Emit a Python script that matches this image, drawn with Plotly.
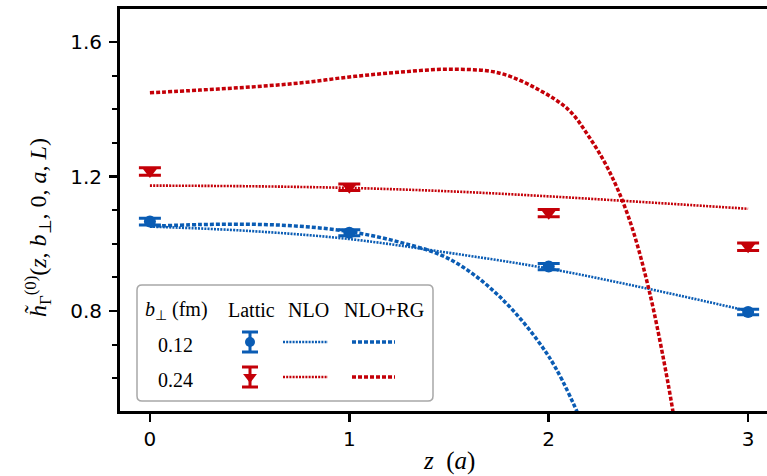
import plotly.graph_objects as go

# ---------------- data ----------------
z_lat = [0, 1, 2, 3]
lat_b012 = [1.066, 1.033, 0.932, 0.797]
err_b012 = [0.010, 0.009, 0.009, 0.008]
lat_b024 = [1.215, 1.168, 1.091, 0.991]
err_b024 = [0.011, 0.010, 0.011, 0.011]

z_nlo = [0, 0.5, 1.0, 1.5, 2.0, 2.5, 3.0]
nlo_b012 = [1.051, 1.038, 1.014, 0.973, 0.926, 0.866, 0.800]
nlo_b024 = [1.173, 1.171, 1.166, 1.156, 1.141, 1.123, 1.104]

z_rg_b012 = [0, 0.25, 0.5, 0.75, 1.0, 1.25, 1.5, 1.75, 2.0, 2.15]
rg_b012 = [1.052, 1.057, 1.058, 1.052, 1.036, 1.005, 0.955, 0.845, 0.665, 0.49]

z_rg_b024 = [0, 0.25, 0.5, 0.75, 1.0, 1.25, 1.5, 1.75, 1.95, 2.1, 2.2, 2.3, 2.4, 2.5, 2.6, 2.65]
rg_b024 = [1.449, 1.457, 1.466, 1.478, 1.496, 1.510, 1.519, 1.508, 1.458, 1.398, 1.32, 1.22,
           1.08, 0.87, 0.58, 0.40]

x_ticks = [0, 1, 2, 3]
y_ticks = [0.8, 1.2, 1.6]
legend_rows = ["0.12", "0.24"]
legend_cols = ["Lattic", "NLO", "NLO+RG"]

BLUE = "#0a5cb4"
RED = "#c40008"
DOT = "2px,1.2px"
DASH = "4px,2px"

W, H = 767, 476
# plot area in page pixels: left 120, right 767, top 9, bottom 411
L, R, T, B = 120, 0, 9, 476 - 411
PW, PH = W - L - R, H - T - B
X0, XS = -0.15, 199.4      # x range start, px per unit
Y0, YS = 0.5026, 336.25    # y range start, px per unit


def px(x):  # pixel -> paper
    return (x - L) / PW


def py(y):
    return (H - B - y) / PH


def dx(x):  # pixel -> data
    return X0 + (x - L) / XS


def dy(y):
    return Y0 + (H - B - y) / YS


fig = go.Figure()

# theory curves
fig.add_trace(go.Scatter(x=z_nlo, y=nlo_b012, mode="lines", line=dict(color=BLUE, width=2.6, dash=DOT, shape="spline")))
fig.add_trace(go.Scatter(x=z_nlo, y=nlo_b024, mode="lines", line=dict(color=RED, width=2.6, dash=DOT, shape="spline")))
fig.add_trace(go.Scatter(x=z_rg_b012, y=rg_b012, mode="lines", line=dict(color=BLUE, width=3.5, dash=DASH, shape="spline")))
fig.add_trace(go.Scatter(x=z_rg_b024, y=rg_b024, mode="lines", line=dict(color=RED, width=3.5, dash=DASH, shape="spline")))

# lattice points
fig.add_trace(go.Scatter(x=z_lat, y=lat_b012, mode="markers",
                         marker=dict(symbol="circle", size=12, color=BLUE),
                         error_y=dict(type="data", array=err_b012, color=BLUE, thickness=3, width=11)))
fig.add_trace(go.Scatter(x=z_lat, y=lat_b024, mode="markers",
                         marker=dict(symbol="triangle-down", size=13, color=RED),
                         error_y=dict(type="data", array=err_b024, color=RED, thickness=3, width=11)))

# ---------------- custom legend ----------------
bx0, bx1, by0, by1, rr = 137, 433, 285, 401, 5
path = (f"M {px(bx0+rr)},{py(by0)} L {px(bx1-rr)},{py(by0)} Q {px(bx1)},{py(by0)} {px(bx1)},{py(by0+rr)} "
        f"L {px(bx1)},{py(by1-rr)} Q {px(bx1)},{py(by1)} {px(bx1-rr)},{py(by1)} "
        f"L {px(bx0+rr)},{py(by1)} Q {px(bx0)},{py(by1)} {px(bx0)},{py(by1-rr)} "
        f"L {px(bx0)},{py(by0+rr)} Q {px(bx0)},{py(by0)} {px(bx0+rr)},{py(by0)} Z")
fig.add_shape(type="path", path=path, xref="paper", yref="paper",
              line=dict(color="#a8a8a8", width=1.5), fillcolor="white", layer="below")

legend_font = dict(family="Liberation Serif, serif", size=20, color="black")


def ann(x, y, text, **kw):
    fig.add_annotation(x=px(x), y=py(y), xref="paper", yref="paper", showarrow=False,
                       xanchor="center", yanchor="middle", text=text, **kw)


ann(176, 310, "<i>b</i><sub>⊥</sub> (fm)", font=legend_font)
for cx, label in zip([251, 308, 384], legend_cols):
    ann(cx, 310, label, font=legend_font)
row_y = [342, 377]
for ry, label in zip(row_y, legend_rows):
    ann(175, ry + 3, label, font=legend_font)

for ry, col in zip(row_y, [BLUE, RED]):
    fig.add_shape(type="line", xref="paper", yref="paper", x0=px(283), x1=px(328), y0=py(ry), y1=py(ry),
                  line=dict(color=col, width=2.4, dash=DOT), layer="above")
    fig.add_shape(type="line", xref="paper", yref="paper", x0=px(352), x1=px(395), y0=py(ry), y1=py(ry),
                  line=dict(color=col, width=3.3, dash=DASH), layer="above")

fig.add_trace(go.Scatter(x=[dx(250)], y=[dy(row_y[0])], mode="markers",
                         marker=dict(symbol="circle", size=10, color=BLUE),
                         error_y=dict(type="constant", value=10 / YS, color=BLUE, thickness=3, width=8)))
fig.add_trace(go.Scatter(x=[dx(250)], y=[dy(row_y[1])], mode="markers",
                         marker=dict(symbol="triangle-down", size=12, color=RED),
                         error_y=dict(type="constant", value=10 / YS, color=RED, thickness=3, width=8)))

# axis titles
ann(38, 228, "<i>h̃</i><sub>Γ</sub><sup>(0)</sup>(<i>z</i>, <i>b</i><sub>⊥</sub>, 0, <i>a</i>, <i>L</i>)",
    textangle=-90, font=dict(family="Liberation Serif, serif", size=24, color="black"))
ann(449, 461, "<i>z</i>  (<i>a</i>)", font=dict(family="Liberation Serif, serif", size=25, color="black"))

tick_font = dict(family="DejaVu Sans, sans-serif", size=20, color="black")
fig.update_layout(
    width=W, height=H, margin=dict(l=L, r=R, t=T, b=B, autoexpand=False),
    paper_bgcolor="white", plot_bgcolor="white", showlegend=False, hovermode=False,
    xaxis=dict(range=[X0, X0 + PW / XS], tickvals=x_ticks, ticktext=[str(v) for v in x_ticks],
               automargin=False,
               showgrid=False, zeroline=False, showline=True, linecolor="black", linewidth=3,
               mirror=True, ticks="outside", ticklen=8, tickwidth=2.5, tickcolor="black",
               tickfont=tick_font),
    yaxis=dict(range=[Y0, Y0 + PH / YS], tickvals=y_ticks, ticktext=[f"{v:.1f}" for v in y_ticks],
               automargin=False, ticklabelstandoff=3,
               showgrid=False, zeroline=False, showline=True, linecolor="black", linewidth=3,
               ticks="outside", ticklen=8, tickwidth=2.5, tickcolor="black", tickfont=tick_font,
               minor=dict(dtick=0.1, tick0=0, ticks="outside", ticklen=5, tickwidth=2, tickcolor="black",
                          showgrid=False)),
)

fig.write_html(
    "out.html",
    config={"displayModeBar": False, "staticPlot": True},
    post_script=("document.body.style.margin='0';"
                 "document.body.style.overflow='hidden';"
                 "document.documentElement.style.overflow='hidden';"),
)
